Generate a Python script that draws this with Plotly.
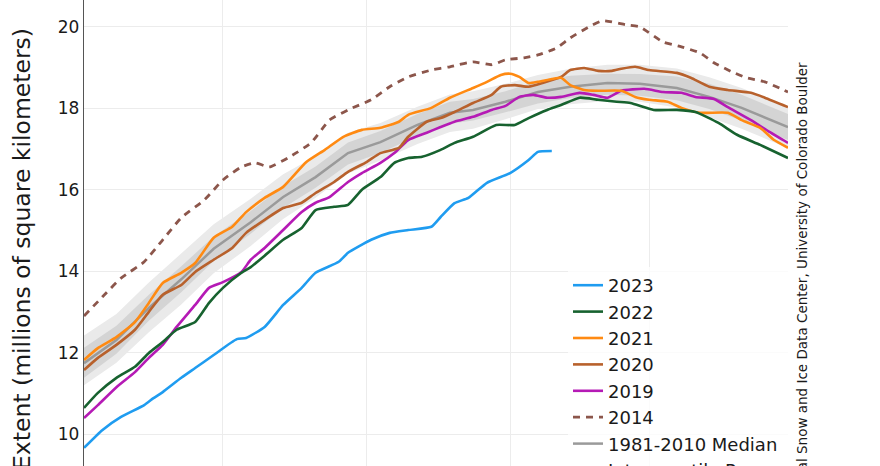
import plotly.graph_objects as go
import pandas as pd

BASE = pd.Timestamp("2023-06-01")

# days after 1 June, extent in millions of km^2
days_2023 = [0, 4, 8, 13, 15, 17, 21, 24, 28, 33, 35, 39, 43, 47, 50, 55, 57, 62, 66, 70, 75, 77, 80, 83, 87, 92, 96, 98, 101]
ext_2023 = [9.66, 10.10, 10.42, 10.71, 10.88, 11.03, 11.38, 11.62, 11.94, 12.33, 12.36, 12.63, 13.17, 13.59, 13.96, 14.23,
            14.45, 14.77, 14.94, 15.01, 15.09, 15.33, 15.67, 15.80, 16.17, 16.41, 16.73, 16.93, 16.95]

days_2022 = [0, 3, 7, 11, 14, 17, 20, 24, 27, 30, 34, 36, 39, 43, 47, 50, 54, 57, 60, 64, 67, 70, 73, 77, 80, 84, 89, 93,
             96, 100, 103, 107, 111, 115, 118, 123, 128, 132, 137, 141, 146, 152]
ext_2022 = [10.64, 11.01, 11.38, 11.65, 11.99, 12.26, 12.56, 12.75, 13.22, 13.59, 13.96, 14.10, 14.38, 14.77, 15.06, 15.50,
            15.58, 15.63, 16.00, 16.31, 16.66, 16.78, 16.81, 16.98, 17.15, 17.30, 17.59, 17.59, 17.76, 17.96, 18.08, 18.26,
            18.21, 18.16, 18.13, 17.96, 17.96, 17.91, 17.64, 17.35, 17.10, 16.78]

days_2021 = [0, 3, 7, 11, 14, 17, 21, 24, 28, 32, 35, 39, 43, 48, 52, 56, 60, 64, 68, 70, 75, 79, 84, 87, 90, 92, 94, 96,
             98, 101, 103, 105, 108, 111, 116, 119, 122, 126, 129, 133, 139, 142, 146, 149, 152]
ext_2021 = [11.82, 12.11, 12.38, 12.75, 13.22, 13.71, 13.96, 14.20, 14.82, 15.09, 15.45, 15.80, 16.07, 16.68, 16.98, 17.30,
            17.47, 17.52, 17.67, 17.84, 18.01, 18.26, 18.50, 18.65, 18.82, 18.85, 18.77, 18.62, 18.65, 18.72, 18.75, 18.57,
            18.45, 18.43, 18.43, 18.28, 18.21, 18.16, 18.01, 17.89, 17.89, 17.71, 17.52, 17.22, 17.03]

days_2020 = [0, 3, 7, 11, 14, 17, 21, 24, 28, 32, 35, 39, 43, 47, 50, 54, 57, 61, 64, 68, 70, 74, 77, 80, 84, 88, 90, 93,
             96, 99, 103, 105, 108, 111, 114, 116, 119, 122, 128, 131, 135, 139, 144, 147, 152]
ext_2020 = [11.57, 11.87, 12.19, 12.56, 13.00, 13.42, 13.66, 13.98, 14.28, 14.57, 14.94, 15.26, 15.55, 15.68, 15.92, 16.19,
            16.44, 16.68, 16.90, 17.03, 17.30, 17.67, 17.76, 17.91, 18.13, 18.33, 18.53, 18.57, 18.53, 18.62, 18.77, 18.94,
            18.99, 18.92, 18.92, 18.97, 19.02, 18.94, 18.87, 18.75, 18.53, 18.45, 18.38, 18.26, 18.03]

days_2019 = [0, 3, 7, 11, 14, 17, 20, 24, 27, 30, 34, 36, 39, 43, 47, 50, 53, 57, 60, 64, 67, 70, 74, 77, 80, 84, 88, 91,
             94, 97, 100, 103, 107, 110, 113, 116, 121, 125, 129, 132, 136, 139, 144, 148, 152]
ext_2019 = [10.39, 10.71, 11.15, 11.52, 11.87, 12.19, 12.63, 13.17, 13.59, 13.73, 13.98, 14.28, 14.57, 15.01, 15.45, 15.68,
            15.82, 16.19, 16.41, 16.66, 16.90, 17.22, 17.40, 17.54, 17.67, 17.79, 17.96, 18.06, 18.28, 18.33, 18.26, 18.28,
            18.38, 18.33, 18.26, 18.43, 18.48, 18.40, 18.38, 18.28, 18.23, 18.03, 17.71, 17.42, 17.15]

days_2014 = [0, 4, 8, 13, 17, 21, 26, 30, 34, 37, 40, 44, 49, 53, 57, 62, 66, 70, 75, 79, 84, 88, 91, 95, 98, 102, 105,
             109, 112, 117, 120, 125, 129, 133, 136, 140, 143, 147, 152]
ext_2014 = [12.90, 13.37, 13.83, 14.23, 14.77, 15.31, 15.75, 16.24, 16.56, 16.66, 16.56, 16.78, 17.15, 17.71, 17.96, 18.21,
            18.53, 18.77, 18.94, 19.02, 19.14, 19.07, 19.19, 19.24, 19.31, 19.48, 19.73, 20.00, 20.15, 20.05, 20.00, 19.63,
            19.51, 19.36, 19.12, 18.89, 18.75, 18.65, 18.40]

days_clim = [0, 7, 14, 21, 28, 36, 43, 50, 57, 64, 72, 79, 84, 91, 98, 105, 113, 120, 128, 135, 142, 152]
median = [11.74, 12.31, 13.10, 13.80, 14.55, 15.20, 15.82, 16.31, 16.90, 17.17, 17.59, 17.89, 17.96, 18.16, 18.40, 18.53,
          18.62, 18.60, 18.50, 18.28, 18.01, 17.54]
iq_lo = [11.38, 11.97, 12.78, 13.48, 14.25, 14.92, 15.55, 16.05, 16.62, 16.90, 17.32, 17.62, 17.70, 17.90, 18.12, 18.25,
         18.33, 18.31, 18.20, 17.98, 17.70, 17.22]
iq_hi = [12.12, 12.66, 13.42, 14.12, 14.85, 15.48, 16.09, 16.57, 17.16, 17.44, 17.86, 18.16, 18.23, 18.42, 18.67, 18.80,
         18.85, 18.84, 18.78, 18.60, 18.33, 17.86]
id_lo = [11.20, 11.75, 12.50, 13.18, 13.95, 14.62, 15.28, 15.80, 16.40, 16.72, 17.12, 17.42, 17.50, 17.73, 17.98, 18.10,
         18.18, 18.16, 18.02, 17.78, 17.50, 17.02]
id_hi = [12.42, 12.95, 13.72, 14.43, 15.15, 15.78, 16.38, 16.82, 17.40, 17.64, 18.04, 18.34, 18.42, 18.60, 18.82, 18.97,
         19.07, 19.07, 18.98, 18.76, 18.50, 18.04]

y_ticks = [10, 12, 14, 16, 18, 20]
month_ticks = ["2023-07-01", "2023-08-01", "2023-09-01", "2023-10-01"]


def to_dates(days):
    return [BASE + pd.Timedelta(days=d) for d in days]


FONT = "DejaVu Sans"
fig = go.Figure()

xc = to_dates(days_clim)
# interdecile band
fig.add_trace(go.Scatter(x=xc, y=id_lo, mode="lines", line=dict(width=0), showlegend=False, hoverinfo="skip"))
fig.add_trace(go.Scatter(x=xc, y=id_hi, mode="lines", line=dict(width=0), fill="tonexty", fillcolor="#eaeaea",
                         name="Interdecile Range", legendrank=9))
# interquartile band
fig.add_trace(go.Scatter(x=xc, y=iq_lo, mode="lines", line=dict(width=0), showlegend=False, hoverinfo="skip"))
fig.add_trace(go.Scatter(x=xc, y=iq_hi, mode="lines", line=dict(width=0), fill="tonexty", fillcolor="#d4d4d4",
                         name="Interquartile Range", legendrank=8))
fig.add_trace(go.Scatter(x=xc, y=median, mode="lines", line=dict(color="#9a9a9a", width=2.5),
                         name="1981-2010 Median", legendrank=7))

series = [
    ("2014", days_2014, ext_2014, "#8c564b", "7px,6px", 6),
    ("2019", days_2019, ext_2019, "#b51ab5", None, 5),
    ("2020", days_2020, ext_2020, "#b8612c", None, 4),
    ("2021", days_2021, ext_2021, "#ff8a12", None, 3),
    ("2022", days_2022, ext_2022, "#17622f", None, 2),
    ("2023", days_2023, ext_2023, "#1f9cf0", None, 1),
]
for name, d, v, c, dash, rank in series:
    fig.add_trace(go.Scatter(x=to_dates(d), y=v, mode="lines",
                             line=dict(color=c, width=2.6 if dash is None else 2.8, dash=dash, shape="spline",
                                       smoothing=0.5),
                             name=name, legendrank=rank))

W, H = 880, 548
PT, PB, PL, PR = 0, 50, 84, 92
plot_h = H - PT - PB
plot_w = W - PL - PR

fig.update_layout(
    width=W, height=H,
    margin=dict(l=PL, r=PR, t=PT, b=PB, pad=0),
    paper_bgcolor="white", plot_bgcolor="white",
    font=dict(family=FONT, color="#1a1a1a", size=17),
    legend=dict(
        x=(568 - PL) / plot_w, xanchor="left",
        y=1 - 267 / plot_h, yanchor="top",
        traceorder="normal",
        bgcolor="rgba(255,255,255,0.8)", borderwidth=0,
        font=dict(family=FONT, size=18, color="#1a1a1a"),
        itemwidth=30,
    ),
    xaxis=dict(
        range=["2023-06-01", "2023-10-31"],
        tickvals=month_ticks, showticklabels=False,
        showgrid=True, gridcolor="#ececec", gridwidth=1,
        showline=False, zeroline=False, ticks="",
    ),
    yaxis=dict(
        range=[8.428, 20.66],
        tickvals=y_ticks,
        showgrid=True, gridcolor="#ececec", gridwidth=1,
        showline=True, linecolor="#555555", linewidth=1.3,
        zeroline=False, ticks="", ticklen=0,
        tickfont=dict(size=17),
        title=dict(text="Extent (millions of square kilometers)", font=dict(size=23.5), standoff=20),
    ),
    annotations=[
        dict(text="National Snow and Ice Data Center, University of Colorado Boulder",
             xref="paper", yref="paper", x=(801 - PL) / plot_w, y=1 - 60 / plot_h,
             xanchor="center", yanchor="top", textangle=-90, showarrow=False,
             font=dict(family=FONT, size=13.5, color="#1a1a1a")),
    ],
)

fig.write_html("out.html", config={"displayModeBar": False},
               post_script="document.body.style.margin='0';document.body.style.overflow='hidden';")
